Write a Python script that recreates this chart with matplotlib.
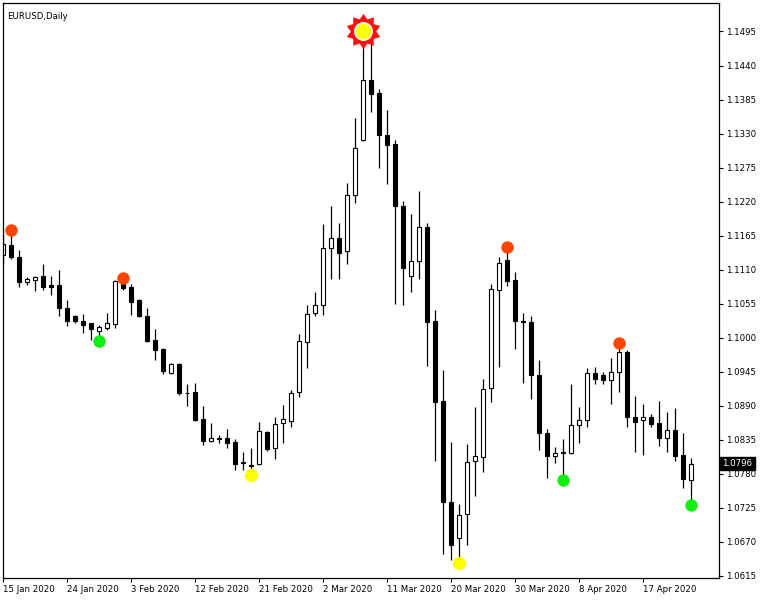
import matplotlib
matplotlib.use("Agg")
import matplotlib.pyplot as plt
import numpy as np
from matplotlib.path import Path

# daily EURUSD candles (one entry per bar)
opens = [1.1134, 1.1150, 1.1131, 1.1089, 1.1093, 1.1099, 1.1085, 1.1085, 1.1048, 1.1035,
         1.1027, 1.1023, 1.1011, 1.1016, 1.1022, 1.1087, 1.1081, 1.1061, 1.1035, 1.0996,
         1.0981, 1.0943, 1.0957, 1.0911, 1.0912, 1.0869, 1.0832, 1.0837, 1.0837, 1.0831,
         1.0798, 1.0793, 1.0795, 1.0847, 1.0821, 1.0861, 1.0865, 1.0912, 1.0993, 1.1039,
         1.1052, 1.1144, 1.1161, 1.1140, 1.1230, 1.1319, 1.1417, 1.1396, 1.1328, 1.1313,
         1.1213, 1.1099, 1.1123, 1.1179, 1.1027, 1.0897, 1.0734, 1.0675, 1.0714, 1.0801,
         1.0807, 1.0918, 1.1077, 1.1125, 1.1093, 1.1026, 1.1025, 1.0939, 1.0845, 1.0809,
         1.0815, 1.0814, 1.0858, 1.0866, 1.0942, 1.0939, 1.0932, 1.0945, 1.0976, 1.0872,
         1.0866, 1.0871, 1.0862, 1.0837, 1.0851, 1.0810, 1.0769]
highs = [1.1166, 1.1174, 1.1142, 1.1098, 1.1099, 1.1119, 1.1099, 1.1109, 1.1061, 1.1036,
         1.1038, 1.1024, 1.1021, 1.1039, 1.1093, 1.1096, 1.1087, 1.1063, 1.1047, 1.1013,
         1.0983, 1.0958, 1.0958, 1.0925, 1.0926, 1.0889, 1.0862, 1.0842, 1.0852, 1.0836,
         1.0815, 1.0821, 1.0863, 1.0848, 1.0871, 1.0891, 1.0915, 1.1006, 1.1053, 1.1073,
         1.1184, 1.1213, 1.1186, 1.1250, 1.1355, 1.1496, 1.1485, 1.1402, 1.1368, 1.1319,
         1.1221, 1.1200, 1.1237, 1.1186, 1.1045, 1.0948, 1.0831, 1.0731, 1.0828, 1.0887,
         1.0933, 1.1086, 1.1130, 1.1146, 1.1106, 1.1040, 1.1034, 1.0964, 1.0852, 1.0823,
         1.0836, 1.0925, 1.0887, 1.0950, 1.0952, 1.0945, 1.0967, 1.0991, 1.0979, 1.0905,
         1.0893, 1.0877, 1.0897, 1.0880, 1.0886, 1.0845, 1.0805]
lows = [1.1121, 1.1127, 1.1082, 1.1085, 1.1076, 1.1077, 1.1069, 1.1035, 1.1019, 1.1023,
        1.1008, 1.0996, 1.0994, 1.1012, 1.1016, 1.1077, 1.1037, 1.1033, 1.0992, 1.0963,
        1.0941, 1.0941, 1.0907, 1.0890, 1.0865, 1.0826, 1.0831, 1.0830, 1.0822, 1.0785,
        1.0786, 1.0778, 1.0793, 1.0817, 1.0804, 1.0830, 1.0855, 1.0904, 1.0950, 1.1034,
        1.1037, 1.1095, 1.1094, 1.1119, 1.1217, 1.1318, 1.1364, 1.1275, 1.1249, 1.1054,
        1.1053, 1.1073, 1.1094, 1.0954, 1.0800, 1.0650, 1.0640, 1.0635, 1.0664, 1.0744,
        1.0783, 1.0895, 1.0953, 1.1084, 1.0982, 1.0926, 1.0901, 1.0818, 1.0772, 1.0797,
        1.0770, 1.0811, 1.0830, 1.0855, 1.0925, 1.0925, 1.0892, 1.0912, 1.0856, 1.0815,
        1.0810, 1.0856, 1.0824, 1.0815, 1.0801, 1.0756, 1.0729]
closes = [1.1151, 1.1131, 1.1089, 1.1094, 1.1098, 1.1081, 1.1082, 1.1048, 1.1027, 1.1027,
          1.1021, 1.1013, 1.1017, 1.1023, 1.1092, 1.1080, 1.1058, 1.1034, 1.0995, 1.0980,
          1.0946, 1.0957, 1.0910, 1.0910, 1.0867, 1.0832, 1.0837, 1.0836, 1.0830, 1.0796,
          1.0797, 1.0792, 1.0848, 1.0820, 1.0860, 1.0868, 1.0911, 1.0994, 1.1038, 1.1052,
          1.1144, 1.1161, 1.1137, 1.1230, 1.1306, 1.1417, 1.1394, 1.1328, 1.1312, 1.1212,
          1.1113, 1.1123, 1.1179, 1.1025, 1.0896, 1.0734, 1.0664, 1.0713, 1.0799, 1.0809,
          1.0917, 1.1078, 1.1121, 1.1092, 1.1026, 1.1025, 1.0939, 1.0845, 1.0809, 1.0814,
          1.0814, 1.0858, 1.0866, 1.0942, 1.0933, 1.0932, 1.0945, 1.0976, 1.0872, 1.0864,
          1.0871, 1.0860, 1.0837, 1.0850, 1.0809, 1.0771, 1.0796]

date_labels = ["15 Jan 2020", "24 Jan 2020", "3 Feb 2020", "12 Feb 2020", "21 Feb 2020",
               "2 Mar 2020", "11 Mar 2020", "20 Mar 2020", "30 Mar 2020", "8 Apr 2020",
               "17 Apr 2020"]
date_label_bars = [0, 8, 16, 24, 32, 40, 48, 56, 64, 72, 80]

price_ticks = [1.0615, 1.0670, 1.0725, 1.0780, 1.0835, 1.0890, 1.0945, 1.1000, 1.1055,
               1.1110, 1.1165, 1.1220, 1.1275, 1.1330, 1.1385, 1.1440, 1.1495]

# indicator marks
swing_high_bars = [1, 15, 63, 77]
swing_high_prices = [1.1174, 1.1096, 1.1146, 1.0991]
swing_low_bars = [12, 70, 86]
swing_low_prices = [1.0994, 1.0770, 1.0729]
major_low_bars = [31, 57]
major_low_prices = [1.0778, 1.0635]
major_high_bars = [45]
major_high_prices = [1.1496]

symbol_title = "EURUSD,Daily"


def _sun_path(points: int = 10, inner: float = 0.72) -> Path:
    # star outline used for the main top mark
    ang = np.linspace(0, 2 * np.pi, 2 * points, endpoint=False) + np.pi / 2
    rad = np.where(np.arange(2 * points) % 2 == 0, 1.0, inner)
    verts = np.column_stack([rad * np.cos(ang), rad * np.sin(ang)])
    verts = np.vstack([verts, verts[:1]])
    codes = [Path.MOVETO] + [Path.LINETO] * (2 * points - 1) + [Path.CLOSEPOLY]
    return Path(verts, codes)


def main() -> None:
    fig = plt.figure(figsize=(7.6, 6.0), dpi=100)
    ax = fig.add_axes([3 / 760, 1 - 578 / 600, 716 / 760, 575 / 600])

    n = len(opens)
    xs = list(range(n))

    # wicks
    ax.vlines(xs, lows, highs, color="black", linewidth=0.9, zorder=1)

    # bodies
    for i in xs:
        o, c = opens[i], closes[i]
        bottom = min(o, c)
        height = max(abs(c - o), 0.00004)
        fill = "white" if c > o else "black"
        ax.bar(i, height, bottom=bottom, width=0.55, color=fill,
               edgecolor="black", linewidth=0.8, zorder=2)

    # markers
    ax.scatter(swing_high_bars, swing_high_prices, s=80, color="#FF4500", zorder=5,
               linewidths=0)
    ax.scatter(swing_low_bars, swing_low_prices, s=80, color="#11EE11", zorder=5,
               linewidths=0)
    ax.scatter(major_low_bars, major_low_prices, s=90, color="#FFFF00", zorder=5,
               linewidths=0)
    ax.scatter(major_high_bars, major_high_prices, s=640, marker=_sun_path(),
               color="#FF1010", zorder=5, linewidths=0)
    ax.scatter(major_high_bars, major_high_prices, s=185, color="white", zorder=6,
               linewidths=0)
    ax.scatter(major_high_bars, major_high_prices, s=125, color="#FFFF00", zorder=7,
               linewidths=0)

    ax.set_xlim(0, 89.5)
    ax.set_ylim(1.06110, 1.15411)

    ax.yaxis.tick_right()
    ax.set_yticks(price_ticks)
    ax.set_yticklabels([f"{p:.4f}" for p in price_ticks])
    ax.set_xticks(date_label_bars)
    ax.set_xticklabels(date_labels)
    for lab in ax.get_xticklabels():
        lab.set_horizontalalignment("left")

    ax.tick_params(axis="both", direction="out", length=3, width=0.8,
                   labelsize=6.2, colors="black", pad=2)
    for sp in ax.spines.values():
        sp.set_linewidth(0.9)
        sp.set_color("black")

    # title in the top-left corner
    ax.text(0.006, 0.985, symbol_title, transform=ax.transAxes, ha="left", va="top",
            fontsize=6.2, color="black")

    # current price label
    ax.annotate(f"{closes[-1]:.4f}", xy=(1, closes[-1]),
                xycoords=("axes fraction", "data"), xytext=(2.5, 0),
                textcoords="offset points", ha="left", va="center", fontsize=6.2,
                color="white", zorder=10, annotation_clip=False,
                bbox=dict(boxstyle="square,pad=0.25", fc="black", ec="black"))

    fig.savefig("out.png", dpi=100)
    plt.close(fig)


if __name__ == "__main__":
    main()
